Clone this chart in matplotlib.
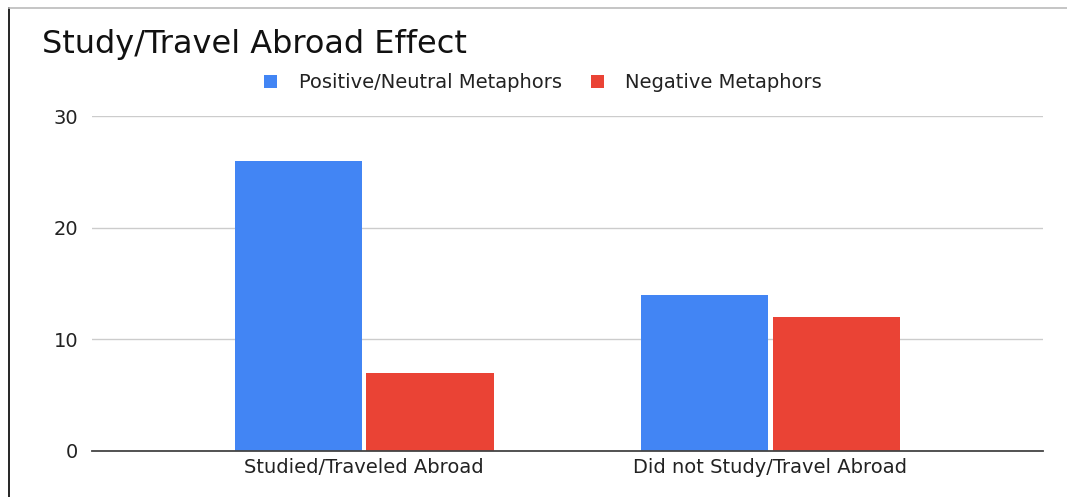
import matplotlib.pyplot as plt
import numpy as np
from matplotlib.lines import Line2D
from matplotlib.patches import Patch

categories = ["Studied/Traveled Abroad", "Did not Study/Travel Abroad"]
positive = [26, 14]
negative = [7, 12]
series_names = ["Positive/Neutral Metaphors", "Negative Metaphors"]
yticks = [0, 10, 20, 30]

BLUE = "#4285f4"
RED = "#ea4335"

plt.rcParams["font.family"] = ["DejaVu Sans"]

fig = plt.figure(figsize=(10.67, 4.97), dpi=100)
W, H = 1067, 497
# plot area in pixels: x 92..1043, y 116..451
ax = fig.add_axes([92 / W, 1 - 451 / H, (1043 - 92) / W, (451 - 116) / H])

x = np.arange(len(categories))
width = 0.313
gap = 0.006
ax.bar(x - width / 2 - gap, positive, width, color=BLUE, zorder=3)
ax.bar(x + width / 2 + gap, negative, width, color=RED, zorder=3)

ax.set_xlim(-0.67, 1.672)
ax.set_ylim(0, 30)
ax.set_yticks(yticks)
ax.set_xticks(x)
ax.set_xticklabels(categories)
ax.tick_params(axis="both", length=0, labelsize=14, colors="#222222")
ax.tick_params(axis="y", pad=10)
ax.tick_params(axis="x", pad=5)
ax.grid(axis="y", color="#cccccc", linewidth=1, zorder=0)
for s in ["top", "right", "left"]:
    ax.spines[s].set_visible(False)
ax.spines["bottom"].set_color("#444444")
ax.spines["bottom"].set_linewidth(1.3)
ax.spines["bottom"].set_zorder(4)

fig.text(42 / W, 1 - 45 / H, "Study/Travel Abroad Effect", fontsize=23,
         va="center", ha="left", color="#111111")

handles = [Patch(facecolor=BLUE, edgecolor="none"), Patch(facecolor=RED, edgecolor="none")]
fig.legend(handles, series_names, loc="center", bbox_to_anchor=(543 / W, 1 - 83 / H),
           ncol=2, frameon=False, fontsize=14, handlelength=0.67, handleheight=0.67,
           handletextpad=1.1, columnspacing=1.5, labelcolor="#222222")

# screenshot frame: left dark border and top grey rule
fig.add_artist(Line2D([9 / W, 9 / W], [0, 1 - 8 / H], color="black", linewidth=1.2))
fig.add_artist(Line2D([9 / W, 1], [1 - 8 / H, 1 - 8 / H], color="#bbbbbb", linewidth=1.2))

fig.savefig("out.png", dpi=100)
